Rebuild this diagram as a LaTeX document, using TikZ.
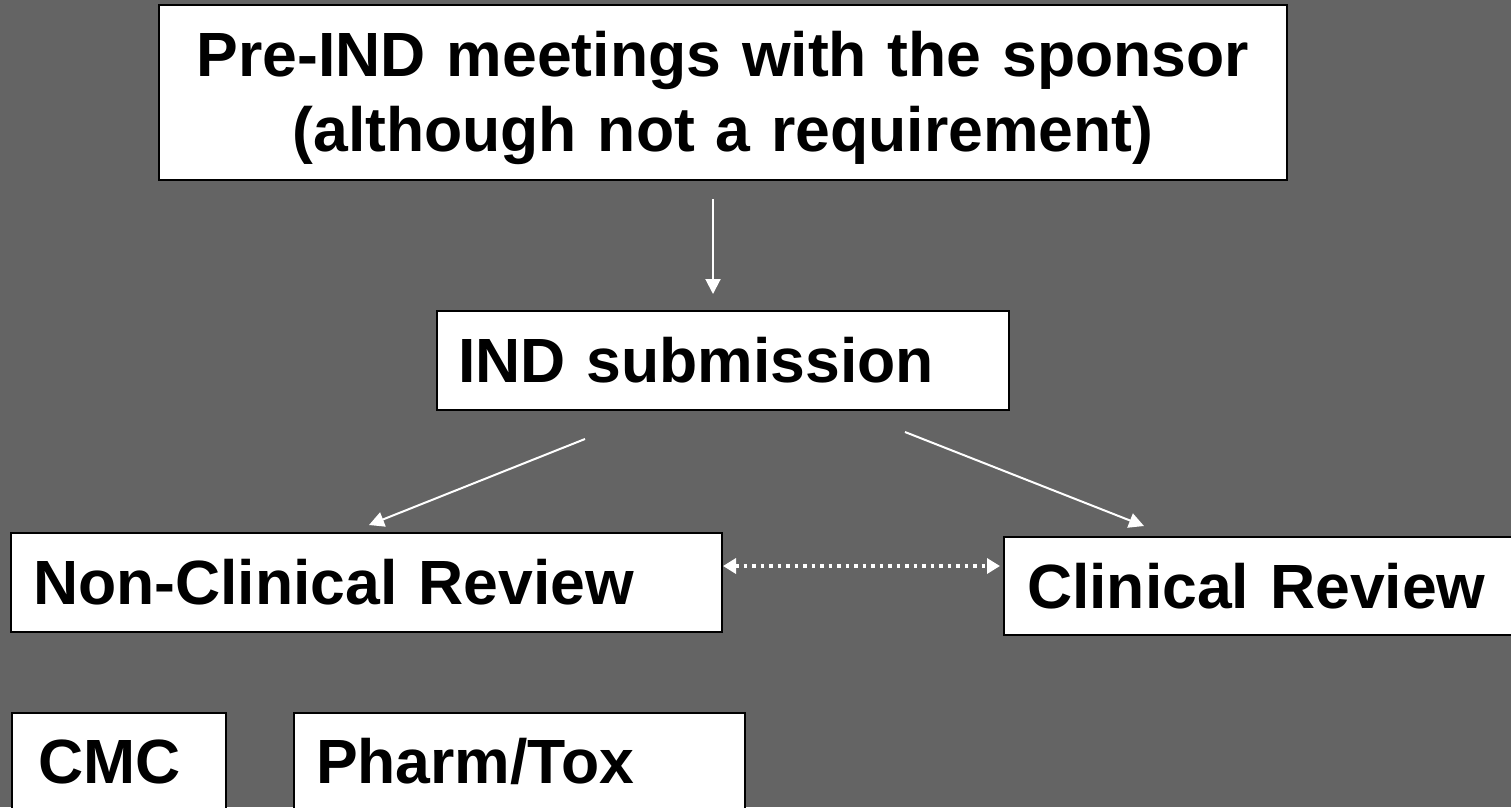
\documentclass[tikz,border=0pt]{standalone}
\usepackage{fontspec}
\setmainfont{Liberation Sans}
\usetikzlibrary{arrows.meta}
\definecolor{bggray}{RGB}{100,100,100}
\begin{document}
\begin{tikzpicture}[x=1pt,y=-1pt,
  box/.style={draw=black, line width=2pt, fill=white, rectangle, inner ysep=0pt,
    font=\fontsize{62.5}{75}\selectfont\bfseries, text=black},
  lbox/.style={box, align=left},
  arr/.style={draw=white, line width=2pt, -{Triangle[length=15pt,width=15pt]}},
  dotarr/.style={draw=white, line width=3.5pt, dash pattern=on 3.5pt off 5pt,
    {Triangle[length=13pt,width=15pt]}-{Triangle[length=13pt,width=15pt]}}]
\useasboundingbox (0,0) rectangle (1511,807);
\clip (0,0) rectangle (1511,807);
\fill[bggray] (0,0) rectangle (1511,807);
\node[box, align=center, inner xsep=10pt, text width=1108pt, minimum height=175pt, text height=56pt] (pre) at (723,92.5)
  {Pre-IND meetings with the sponsor\\(although not a requirement)};
\node[lbox, inner xsep=21pt, text width=530pt, minimum height=99pt] (ind) at (723,360.5) {IND submission};
\node[lbox, inner xsep=22pt, text width=667pt, minimum height=99pt] (noncl) at (366.5,582.5) {Non-Clinical Review};
\node[lbox, inner xsep=23pt, text width=474pt, minimum height=98pt] (clin) at (1264,586) {Clinical Review};
\node[lbox, inner xsep=26pt, text width=162pt, minimum height=97pt] (cmc) at (119,761.5) {CMC};
\node[lbox, inner xsep=22pt, text width=407pt, minimum height=97pt] (pharm) at (519.5,761.5) {Pharm/Tox};
\draw[arr] ([shift={(-10,18)}]pre.south) -- ([shift={(-10,-16)}]ind.north);
\draw[arr] ([shift={(-138,28)}]ind.south) -- ([shift={(2.5,-7)}]noncl.north);
\draw[arr] ([shift={(182,21)}]ind.south) -- ([shift={(141,-10)}]clin.north west);
\draw[dotarr] ([shift={(0,-16.5)}]noncl.east) -- ([shift={(-3,-20)}]clin.west);
\end{tikzpicture}
\end{document}
